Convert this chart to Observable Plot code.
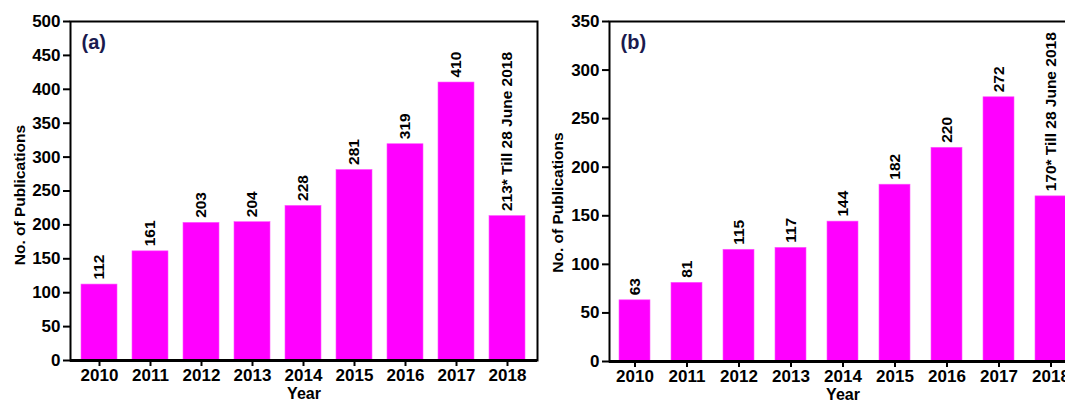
<!DOCTYPE html>
<html><head><meta charset="utf-8">
<script src="https://cdn.jsdelivr.net/npm/d3@7"></script>
<script src="https://cdn.jsdelivr.net/npm/@observablehq/plot@0.6"></script>
<style>
body{margin:0;background:#fff;}
#wrap{width:1065px;height:402px;overflow:hidden;display:flex;background:#fff;}
#wrap svg{flex:none;display:block;}
</style></head><body><div id="wrap"></div>
<script>
const years = ["2010","2011","2012","2013","2014","2015","2016","2017","2018"];
const pubsA = [112,161,203,204,228,281,319,410,213];
const pubsB = [63,81,115,117,144,182,220,272,170];
const ticksA = [0,50,100,150,200,250,300,350,400,450,500];
const ticksB = [0,50,100,150,200,250,300,350];
const partialYear = "2018";
const partialNote = "* Till 28 June 2018";
const tags = ["(a)","(b)"];
const xTitle = "Year";
const yTitle = "No. of Publications";

const FONT = "'Liberation Sans', Arial, Helvetica, sans-serif";

function panel(values, ticks, tag, o) {
  const data = years.map((y, i) => ({
    year: y, value: values[i],
    label: y === partialYear ? values[i] + partialNote : String(values[i])
  }));
  return Plot.plot({
    width: o.width, height: 402,
    marginLeft: o.ml, marginRight: o.mr, marginTop: 21, marginBottom: o.mb,
    style: {fontFamily: FONT, background: "white", color: "black", overflow: "visible"},
    x: {domain: years, paddingInner: o.pi, paddingOuter: o.po, align: 0.5},
    y: {domain: [0, ticks[ticks.length - 1]]},
    marks: [
      Plot.barY(data, {x: "year", y: "value", fill: "#ff00ff", stroke: "#ff55ff", strokeWidth: 0.6}),
      Plot.text(data, {x: "year", y: "value", text: "label", rotate: -90, textAnchor: "start",
        dy: -5, fontSize: 15.5, fontWeight: "bold", fill: "black"}),
      Plot.axisY({ticks, tickSize: 7, tickPadding: 3, fontSize: 17, fontWeight: "bold", label: null, strokeWidth: 2}),
      Plot.axisX({tickSize: 6, tickPadding: 2, fontSize: 17, fontWeight: "bold", label: null, strokeWidth: 2}),
      Plot.frame({strokeWidth: 2, stroke: "black"}),
      Plot.ruleY([0], {strokeWidth: 3, stroke: "black"}),
      Plot.text([yTitle], {frameAnchor: "left", textAnchor: "middle", lineAnchor: "middle", dx: o.ylx, dy: o.yly,
        rotate: -90, fontSize: 15.5, fontWeight: "bold", fill: "black"}),
      Plot.text([xTitle], {frameAnchor: "bottom", textAnchor: "middle", lineAnchor: "middle", dy: 33,
        fontSize: 16, fontWeight: "bold", fill: "black"}),
      Plot.text([tag], {frameAnchor: "top-left", textAnchor: "start", lineAnchor: "middle", dx: 11, dy: 21,
        fontSize: 20, fontWeight: "bold", fill: "#1a1a4e"})
    ]
  });
}

const wrap = document.getElementById("wrap");
wrap.append(panel(pubsA, ticksA, tags[0], {width: 545, ml: 70, mr: 8, mb: 42, pi: 0.287, po: 0.154, ylx: -50, yly: 4}));
wrap.append(panel(pubsB, ticksB, tags[1], {width: 545, ml: 64, mr: 14, mb: 41, pi: 0.40, po: 0.19, ylx: -51, yly: 11}));
</script></body></html>
